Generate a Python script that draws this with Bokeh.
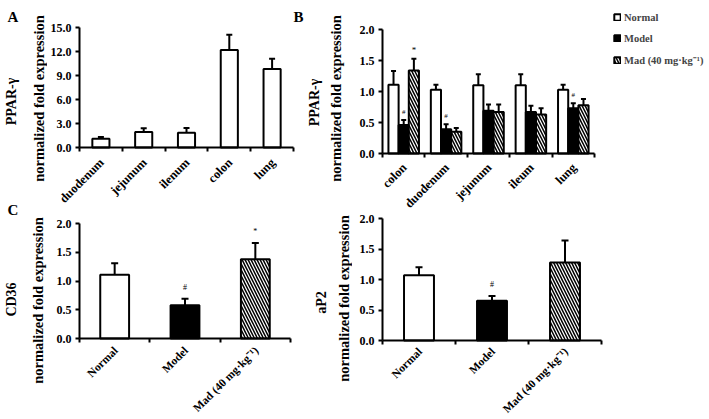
import math
from bokeh.plotting import figure
from bokeh.models import (Range1d, FixedTicker, NumeralTickFormatter, Whisker, TeeHead,
                          ColumnDataSource, Label, LabelSet, Legend, LegendItem)
from bokeh.layouts import row, column
from bokeh.embed import file_html
from bokeh.resources import INLINE

FONT = "Liberation Serif"

# ---------------- data ----------------
# Panel A: PPAR-gamma across tissues
tissues_A = ["duodenum", "jejunum", "ilenum", "colon", "lung"]
ppar_A = [1.1, 1.95, 1.85, 12.2, 9.8]
ppar_A_err = [0.2, 0.45, 0.6, 1.9, 1.3]
yticks_A = [0, 3, 6, 9, 12, 15]

# Panel B: PPAR-gamma by group
tissues_B = ["colon", "duodenum", "jejunum", "ileum", "lung"]
groups = ["Normal", "Model", "Mad (40 mg\u00b7kg\u207b\u00b9)"]
ppar_B_normal = [1.11, 1.03, 1.10, 1.10, 1.03]
ppar_B_normal_err = [0.22, 0.08, 0.18, 0.18, 0.08]
ppar_B_model = [0.46, 0.39, 0.69, 0.67, 0.73]
ppar_B_model_err = [0.08, 0.08, 0.10, 0.10, 0.08]
ppar_B_mad = [1.34, 0.35, 0.67, 0.63, 0.78]
ppar_B_mad_err = [0.19, 0.06, 0.12, 0.10, 0.10]
sig_B_model = ["#", "#", "", "", "#"]
sig_B_mad = ["*", "", "", "", ""]
yticks_B = [0, 0.5, 1.0, 1.5, 2.0]

# Panel C: CD36 and aP2
cd36 = [1.11, 0.58, 1.38]
cd36_err = [0.20, 0.11, 0.28]
cd36_sig = ["", "#", "*"]
ap2 = [1.07, 0.65, 1.28]
ap2_err = [0.13, 0.08, 0.36]
ap2_sig = ["", "#", ""]
yticks_C = [0, 0.5, 1.0, 1.5, 2.0]

group_fill = ["white", "black", "white"]
group_hatch = [None, None, "\\"]

VERT = math.pi / 2


def label(p, t, x, y, size, angle=0.0, align="center", baseline="middle"):
    p.add_layout(Label(x=x, y=y, text=t, angle=angle, text_font=FONT, text_font_style="bold",
                       text_font_size=size, text_align=align, text_baseline=baseline,
                       text_color="black"))


class Strip:
    """Narrow text-only figure for the axis titles left of a panel (page coordinates)."""

    def __init__(self, ox, oy, W, H):
        self.ox, self.oy, self.H = ox, oy, H
        p = figure(width=W, height=H, x_range=Range1d(0, W), y_range=Range1d(0, H),
                   output_backend="svg", toolbar_location=None, min_border=0,
                   x_axis_location=None, y_axis_location=None)
        p.grid.visible = False
        p.outline_line_color = None
        self.p = p

    def text(self, t, X, Y, size, angle=0.0, align="center", baseline="middle"):
        label(self.p, t, X - self.ox, self.oy + self.H - Y, size, angle, align, baseline)


class Panel:
    """Plot whose frame fills its canvas; both axes are drawn at data 0."""

    def __init__(self, ox, oy, W, H, axis_x, right_x, ncat, y_top, y_bot, ymax, yticks):
        self.ux = ncat / (right_x - axis_x)
        self.uy = ymax / (y_bot - y_top)
        self.axis_x, self.y_bot = axis_x, y_bot
        p = figure(width=W, height=H,
                   x_range=Range1d(-(axis_x - ox) * self.ux, ncat + (ox + W - right_x) * self.ux),
                   y_range=Range1d(-(oy + H - y_bot) * self.uy, ymax + (y_top - oy) * self.uy),
                   output_backend="svg", toolbar_location=None, min_border=0)
        p.grid.visible = False
        p.outline_line_color = None
        self.centers = [i + 0.5 for i in range(ncat)]
        xa = p.xaxis[0]
        xa.fixed_location = 0
        xa.bounds = (0, ncat)
        xa.ticker = FixedTicker(ticks=[], minor_ticks=list(range(ncat + 1)))
        xa.major_tick_out = 0
        xa.major_tick_in = 0
        xa.minor_tick_out = 4
        xa.minor_tick_in = 0
        xa.minor_tick_line_width = 2
        xa.minor_tick_line_color = "black"
        xa.axis_line_width = 2
        xa.axis_line_color = "black"
        ya = p.yaxis[0]
        ya.fixed_location = 0
        ya.bounds = (0, ymax)
        ya.ticker = FixedTicker(ticks=yticks, minor_ticks=[])
        ya.formatter = NumeralTickFormatter(format="0.0")
        ya.major_tick_out = 4
        ya.major_tick_in = 0
        ya.major_tick_line_width = 2
        ya.major_tick_line_color = "black"
        ya.minor_tick_out = 0
        ya.minor_tick_in = 0
        ya.axis_line_width = 2
        ya.axis_line_color = "black"
        ya.major_label_standoff = 4
        ya.major_label_text_font = FONT
        ya.major_label_text_font_style = "bold"
        ya.major_label_text_font_size = "12px"
        ya.major_label_text_color = "black"
        self.p = p

    def text(self, t, X, Y, size, angle=0.0, align="center", baseline="middle"):
        label(self.p, t, (X - self.axis_x) * self.ux, (self.y_bot - Y) * self.uy, size, angle,
              align, baseline)

    def xlabels(self, labels, size, dy):
        src = ColumnDataSource(dict(x=self.centers, y=[0] * len(labels), t=labels))
        self.p.add_layout(LabelSet(x="x", y="y", text="t", source=src, x_offset=1, y_offset=-dy,
                                   angle=math.pi / 4, text_align="right", text_baseline="middle",
                                   text_font=FONT, text_font_style="bold", text_font_size=size,
                                   text_color="black"))

    def bars(self, x, vals, errs, width, fill, hatch, head=6):
        kw = dict(fill_color=fill, line_color="black", line_width=2)
        if hatch:
            kw.update(hatch_pattern=hatch, hatch_color="black", hatch_scale=6, hatch_weight=1.5)
        r = self.p.vbar(x=x, top=vals, width=width, bottom=0, **kw)
        src = ColumnDataSource(dict(base=x, lower=vals, upper=[v + e for v, e in zip(vals, errs)]))
        self.p.add_layout(Whisker(source=src, base="base", lower="lower", upper="upper",
                                  dimension="height", line_width=2, line_color="black",
                                  upper_head=TeeHead(size=head, line_width=2, line_color="black"),
                                  lower_head=None, level="glyph"))
        return r

    def sig(self, x, vals, errs, marks, off, size="8px"):
        src = ColumnDataSource(dict(x=x, y=[v + e for v, e in zip(vals, errs)], t=marks))
        self.p.add_layout(LabelSet(x="x", y="y", text="t", source=src, y_offset=off,
                                   text_align="center", text_baseline="bottom", text_font=FONT,
                                   text_font_size=size, text_color="black"))


# ---------------- Panel A (column 1, top: page y 0..216) ----------------
sA = Strip(0, 0, 47, 216)
sA.text("A", 7, 16, "15px", align="left", baseline="alphabetic")
sA.text("C", 7, 209, "15px", align="left", baseline="alphabetic")
sA.text("PPAR-\u03b3", 11, 101, "14px", angle=VERT)
sA.text("normalized fold expression", 38.5, 98, "14.5px", angle=VERT)
A = Panel(47, 0, 258, 216, 79, 293, len(tissues_A), 27, 147, 15, yticks_A)
A.bars(A.centers, ppar_A, ppar_A_err, 0.4, "white", None)
A.xlabels(tissues_A, "12.5px", 13)
A.text("B", 293, 16, "15px", align="left", baseline="alphabetic")

# ---------------- Panel B (column 2, top: page y 0..212) ----------------
sB = Strip(305, 0, 42, 212)
sB.text("PPAR-\u03b3", 314, 102, "14px", angle=VERT)
sB.text("normalized fold expression", 335, 98, "14.5px", angle=VERT)
B = Panel(347, 0, 362, 212, 382, 594, len(tissues_B), 29, 153, 2.0, yticks_B)
bw = 0.24
series_B = [(ppar_B_normal, ppar_B_normal_err), (ppar_B_model, ppar_B_model_err),
            (ppar_B_mad, ppar_B_mad_err)]
renders_B = []
for k, (vals, errs) in enumerate(series_B):
    xs = [c + (k - 1) * bw for c in B.centers]
    renders_B.append(B.bars(xs, vals, errs, bw, group_fill[k], group_hatch[k], head=5))
B.sig(B.centers, ppar_B_model, ppar_B_model_err, sig_B_model, 4, "7px")
B.sig([c + bw for c in B.centers], ppar_B_mad, ppar_B_mad_err, sig_B_mad, 4, "9px")
B.xlabels(tissues_B, "12.5px", 12)
legend = Legend(items=[LegendItem(label=groups[k], renderers=[renders_B[k]]) for k in range(3)],
                location=(266, 145), margin=0, padding=0, spacing=9, label_height=12,
                glyph_width=8, glyph_height=8, label_standoff=3,
                label_text_font=FONT, label_text_font_style="bold", label_text_font_size="10.5px",
                border_line_color=None, background_fill_alpha=0)
B.p.add_layout(legend)

# ---------------- Panel C: CD36 (column 1, bottom: page y 216..418) ----------------
sC1 = Strip(0, 216, 47, 202)
sC1.text("CD36", 11, 299, "14px", angle=VERT)
sC1.text("normalized fold expression", 37.5, 300, "14.5px", angle=VERT)
C1 = Panel(47, 216, 258, 202, 79, 290, len(groups), 223, 338, 2.0, yticks_C)
for k in range(len(groups)):
    C1.bars([C1.centers[k]], [cd36[k]], [cd36_err[k]], 0.41, group_fill[k], group_hatch[k], head=7)
C1.sig(C1.centers, cd36, cd36_err, cd36_sig, 7)
C1.xlabels(groups, "11.5px", 10)

# ---------------- Panel C: aP2 (column 2, bottom: page y 212..418) ----------------
sC2 = Strip(305, 212, 47, 206)
sC2.text("aP2", 321, 302, "14px", angle=VERT)
sC2.text("normalized fold expression", 343, 298, "14.5px", angle=VERT)
C2 = Panel(352, 212, 357, 206, 382, 601, len(groups), 218, 340, 2.0, yticks_C)
for k in range(len(groups)):
    C2.bars([C2.centers[k]], [ap2[k]], [ap2_err[k]], 0.41, group_fill[k], group_hatch[k], head=7)
C2.sig(C2.centers, ap2, ap2_err, ap2_sig, 7)
C2.xlabels(groups, "11.5px", 9)

layout = row(column(row(sA.p, A.p), row(sC1.p, C1.p)),
             column(row(sB.p, B.p), row(sC2.p, C2.p)))
open("out.html", "w").write(file_html(layout, INLINE))
